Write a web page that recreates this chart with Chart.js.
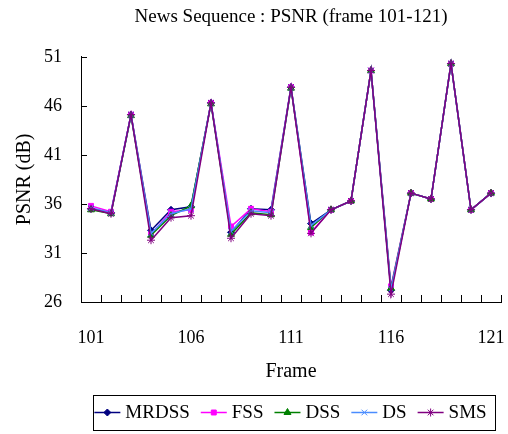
<!DOCTYPE html>
<html>
<head>
<meta charset="utf-8">
<script src="https://cdn.jsdelivr.net/npm/chart.js@4.4.0/dist/chart.umd.min.js"></script>
<style>
  html, body { margin: 0; padding: 0; background: #fff; }
  #wrap { width: 508px; height: 434px; }
</style>
</head>
<body>
<div id="wrap"><canvas id="chart" width="508" height="434"></canvas></div>
<script>
'use strict';

const frames = ['101', '102', '103', '104', '105', '106', '107', '108', '109', '110', '111',
  '112', '113', '114', '115', '116', '117', '118', '119', '120', '121'];
const shownFrames = ['101', '106', '111', '116', '121'];

const mrdss = [35.5, 35.1, 45.1, 33.3, 35.4, 35.7, 46.3, 33.1, 35.5, 35.4, 47.9, 34.0, 35.4, 36.3, 49.6, 27.2, 37.1, 36.5, 50.3, 35.4, 37.1];
const fss   = [35.8, 35.2, 45.1, 32.9, 35.2, 35.4, 46.3, 33.7, 35.5, 35.2, 47.9, 33.1, 35.4, 36.3, 49.6, 27.6, 37.1, 36.5, 50.3, 35.4, 37.1];
const dss   = [35.4, 35.0, 45.0, 32.8, 34.8, 35.8, 46.2, 32.9, 35.1, 34.9, 47.8, 33.6, 35.4, 36.3, 49.6, 27.4, 37.1, 36.5, 50.3, 35.4, 37.1];
const ds    = [35.6, 35.1, 45.1, 33.0, 35.0, 35.5, 46.3, 33.2, 35.3, 35.1, 47.9, 33.8, 35.4, 36.3, 49.6, 27.3, 37.1, 36.5, 50.3, 35.4, 37.1];
const sms   = [35.5, 35.0, 45.1, 32.3, 34.6, 34.8, 46.3, 32.5, 35.0, 34.8, 47.9, 33.0, 35.4, 36.3, 49.6, 26.8, 37.1, 36.5, 50.3, 35.4, 37.1];

const serif = '"Liberation Serif", "DejaVu Serif", serif';

function series(label, data, color, style, radius, order) {
  return {
    label: label,
    data: data,
    order: order,
    borderColor: color,
    backgroundColor: color,
    pointBorderColor: color,
    pointBackgroundColor: color,
    pointStyle: style,
    pointRadius: radius,
    pointBorderWidth: 1,
    borderWidth: 1.5,
    tension: 0
  };
}

// inward tick marks + boxed legend, like the original spreadsheet chart
const axisExtras = {
  id: 'axisExtras',
  afterDraw(chart) {
    const { ctx, chartArea, scales: { x, y } } = chart;
    ctx.save();
    ctx.strokeStyle = '#000';
    ctx.lineWidth = 1;
    ctx.beginPath();
    y.ticks.forEach(t => {
      const py = Math.round(y.getPixelForValue(t.value)) + 0.5;
      ctx.moveTo(chartArea.left, py);
      ctx.lineTo(chartArea.left + 6, py);
    });
    const half = (x.getPixelForValue(1) - x.getPixelForValue(0)) / 2;
    for (let i = 0; i <= frames.length; i++) {
      const px = Math.round(x.getPixelForValue(i) - half) + 0.5;
      ctx.moveTo(px, chartArea.bottom);
      ctx.lineTo(px, chartArea.bottom - 7);
    }
    ctx.stroke();

    // legend
    const box = { left: 93, top: 395, width: 402, height: 35 };
    ctx.strokeRect(box.left + 0.5, box.top + 0.5, box.width, box.height);
    ctx.font = '19px ' + serif;
    ctx.textBaseline = 'middle';
    const lineLen = 26, gapText = 5, gapItem = 11;
    const sets = chart.data.datasets;
    let total = 0;
    sets.forEach((d, i) => {
      total += lineLen + gapText + ctx.measureText(d.label).width + (i < sets.length - 1 ? gapItem : 0);
    });
    let cx = 290.5 - total / 2;
    const cy = box.top + box.height / 2;
    sets.forEach(d => {
      ctx.strokeStyle = d.borderColor;
      ctx.fillStyle = d.borderColor;
      ctx.lineWidth = 1.5;
      ctx.beginPath();
      ctx.moveTo(cx, cy);
      ctx.lineTo(cx + lineLen, cy);
      ctx.stroke();
      ctx.lineWidth = 1;
      Chart.helpers.drawPoint(ctx, { pointStyle: d.pointStyle, radius: d.pointRadius, rotation: 0, borderWidth: 1 }, cx + lineLen / 2, cy);
      ctx.fillStyle = '#000';
      ctx.fillText(d.label, cx + lineLen + gapText, cy + 1);
      cx += lineLen + gapText + ctx.measureText(d.label).width + gapItem;
    });
    ctx.restore();
  }
};

new Chart(document.getElementById('chart'), {
  type: 'line',
  data: {
    labels: frames,
    datasets: [
      series('MRDSS', mrdss, '#000080', 'rectRot', 3.5, 5),
      series('FSS', fss, '#ff00ff', 'rect', 3.5, 4),
      series('DSS', dss, '#008000', 'triangle', 4, 3),
      series('DS', ds, '#4a8cff', 'crossRot', 4, 2),
      series('SMS', sms, '#800080', 'star', 4, 1)
    ]
  },
  options: {
    responsive: false,
    animation: false,
    layout: { padding: { left: 0, right: 7, top: 0, bottom: 42 } },
    plugins: {
      legend: { display: false },
      tooltip: { enabled: false },
      title: {
        display: true,
        text: 'News Sequence : PSNR (frame 101-121)',
        fullSize: false,
        color: '#000',
        font: { family: serif, size: 19, weight: 'normal' },
        padding: { top: 6, bottom: 28 }
      }
    },
    scales: {
      x: {
        type: 'category',
        offset: true,
        grid: { display: true, drawOnChartArea: false, drawTicks: true, tickLength: 22, color: 'rgba(0,0,0,0)' },
        border: { display: true, color: '#000', width: 1 },
        ticks: {
          autoSkip: false,
          maxRotation: 0,
          padding: 3,
          color: '#000',
          font: { family: serif, size: 18 },
          callback: function (value) {
            const lab = this.getLabelForValue(value);
            return shownFrames.includes(lab) ? lab : '';
          }
        },
        title: {
          display: true,
          text: 'Frame',
          color: '#000',
          font: { family: serif, size: 20 },
          padding: { top: 0, bottom: 8 }
        },
        afterFit: s => { s.height = 90; }
      },
      y: {
        min: 26,
        max: 51,
        grid: { display: false, drawTicks: false },
        border: { display: true, color: '#000', width: 1 },
        ticks: {
          stepSize: 5,
          padding: 19,
          color: '#000',
          font: { family: serif, size: 18 }
        },
        title: {
          display: true,
          text: 'PSNR (dB)',
          color: '#000',
          font: { family: serif, size: 20 },
          padding: { top: 13, bottom: 0 }
        },
        afterFit: s => { s.width = 81; }
      }
    }
  },
  plugins: [axisExtras]
});
</script>
</body>
</html>
